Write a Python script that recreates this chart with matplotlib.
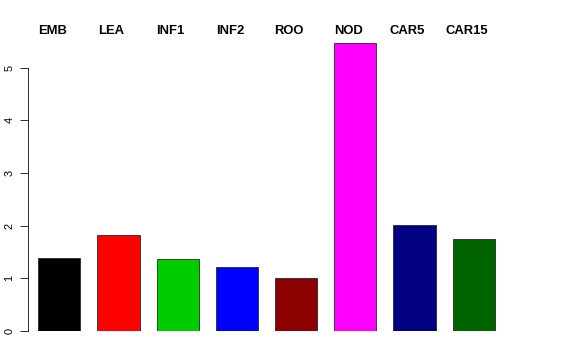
import matplotlib
matplotlib.use("Agg")
import matplotlib.pyplot as plt
import numpy as np

categories = ["EMB", "LEA", "INF1", "INF2", "ROO", "NOD", "CAR5", "CAR15"]
values = [1.38, 1.83, 1.37, 1.22, 1.01, 5.47, 2.02, 1.75]
colors = ["#000000", "#FF0000", "#00CD00", "#0000FF", "#8B0000", "#FF00FF", "#000080", "#006400"]
yticks = [0, 1, 2, 3, 4, 5]

plt.rcParams['font.family'] = ['Liberation Sans', 'DejaVu Sans']

W, H = 576, 360
fig = plt.figure(figsize=(W / 72, H / 72), dpi=72)
left_px, right_px = 28.3, 504.7
bottom_px, top_px = 331, 36
ax = fig.add_axes([left_px / W, (H - bottom_px) / H, (right_px - left_px) / W, (bottom_px - top_px) / H])

x = np.arange(len(categories))
ax.bar(x, values, width=0.71, color=colors, edgecolor="#222222", linewidth=0.8)
ax.set_xlim(-0.524, 7.524)
ax.set_ylim(0, 5.6)

for xi, lab in zip(x, categories):
    ax.text(xi - 0.12, 5.7, lab, ha="center", va="center", fontsize=13,
            fontweight="bold", clip_on=False)

for s in ["top", "right", "bottom"]:
    ax.spines[s].set_visible(False)
ax.spines["left"].set_bounds(0, 5)
ax.spines["left"].set_linewidth(0.8)
ax.set_xticks([])
ax.set_yticks(yticks)
ax.set_yticklabels([str(t) for t in yticks], rotation=90, va="center", fontsize=11)
ax.tick_params(axis="y", length=8, width=0.8, pad=6)

fig.savefig("out.png", dpi=72)
